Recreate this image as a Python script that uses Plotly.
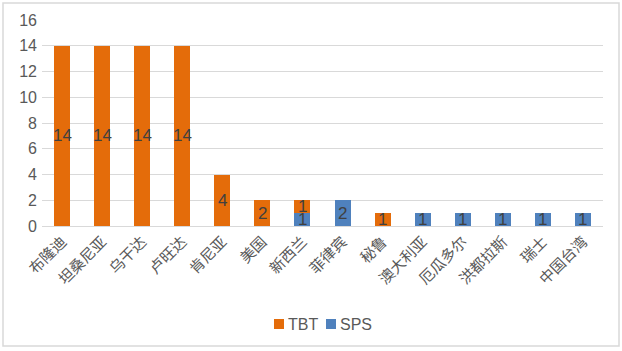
import plotly.graph_objects as go

categories = ["布隆迪", "坦桑尼亚", "乌干达", "卢旺达", "肯尼亚", "美国", "新西兰",
              "菲律宾", "秘鲁", "澳大利亚", "厄瓜多尔", "洪都拉斯", "瑞士", "中国台湾"]
tbt = [14, 14, 14, 14, 4, 2, 1, 0, 1, 0, 0, 0, 0, 0]
sps = [0, 0, 0, 0, 0, 0, 1, 2, 0, 1, 1, 1, 1, 1]
series_names = ["TBT", "SPS"]

ORANGE = "#E46C0A"
BLUE = "#4F81BD"
W, H = 622, 351
ML, MR, MT, MB = 42, 19, 20, 125
NUMFONT = "Liberation Sans, Arial, sans-serif"
pw = W - ML - MR
ph = H - MT - MB

def px_x(x):
    return (x - ML) / pw

def px_y(y):
    return (MT + ph - y) / ph

fig = go.Figure()
fig.add_trace(go.Bar(x=categories, y=sps, name="SPS", marker_color=BLUE,
                     marker_line_width=0, showlegend=False))
fig.add_trace(go.Bar(x=categories, y=tbt, name="TBT", marker_color=ORANGE,
                     marker_line_width=0, showlegend=False))

# data labels, centred in each segment (SPS at bottom, TBT stacked above)
for c, s, t in zip(categories, sps, tbt):
    if s:
        fig.add_annotation(x=c, y=s / 2, text=str(s), showarrow=False,
                           font=dict(size=17, color="#404040", family=NUMFONT))
    if t:
        fig.add_annotation(x=c, y=s + t / 2, text=str(t), showarrow=False,
                           font=dict(size=17, color="#404040", family=NUMFONT))

# chart border
fig.add_shape(type="rect", xref="paper", yref="paper",
              x0=px_x(3), x1=px_x(619), y0=px_y(346), y1=px_y(3),
              line=dict(color="#D9D9D9", width=1.5), layer="below")

# legend (Excel style, compact)
for name, col, sx in zip(series_names, [ORANGE, BLUE], [274, 326]):
    fig.add_shape(type="rect", xref="paper", yref="paper",
                  x0=px_x(sx), x1=px_x(sx + 10), y0=px_y(329), y1=px_y(319),
                  fillcolor=col, line_width=0)
    fig.add_annotation(xref="paper", yref="paper", x=px_x(sx + 12), y=px_y(324),
                       xanchor="left", yanchor="middle", text=name, showarrow=False,
                       font=dict(size=16, color="#595959", family=NUMFONT))

fig.update_layout(
    width=W, height=H, barmode="stack", bargap=0.6,
    margin=dict(l=ML, r=MR, t=MT, b=MB),
    paper_bgcolor="white", plot_bgcolor="white", showlegend=False,
    font=dict(family="Noto Sans CJK SC, Liberation Sans, sans-serif", color="#595959"),
    xaxis=dict(tickangle=-45, tickfont=dict(size=15, color="#595959"),
               showline=True, linecolor="#D9D9D9", ticks="", showgrid=False),
    yaxis=dict(range=[0, 16], dtick=2, showgrid=True, gridcolor="#D9D9D9",
               zeroline=False, ticks="", ticklabelstandoff=4,
               tickfont=dict(size=16, color="#595959", family=NUMFONT)),
)
fig.write_html("out.html")
